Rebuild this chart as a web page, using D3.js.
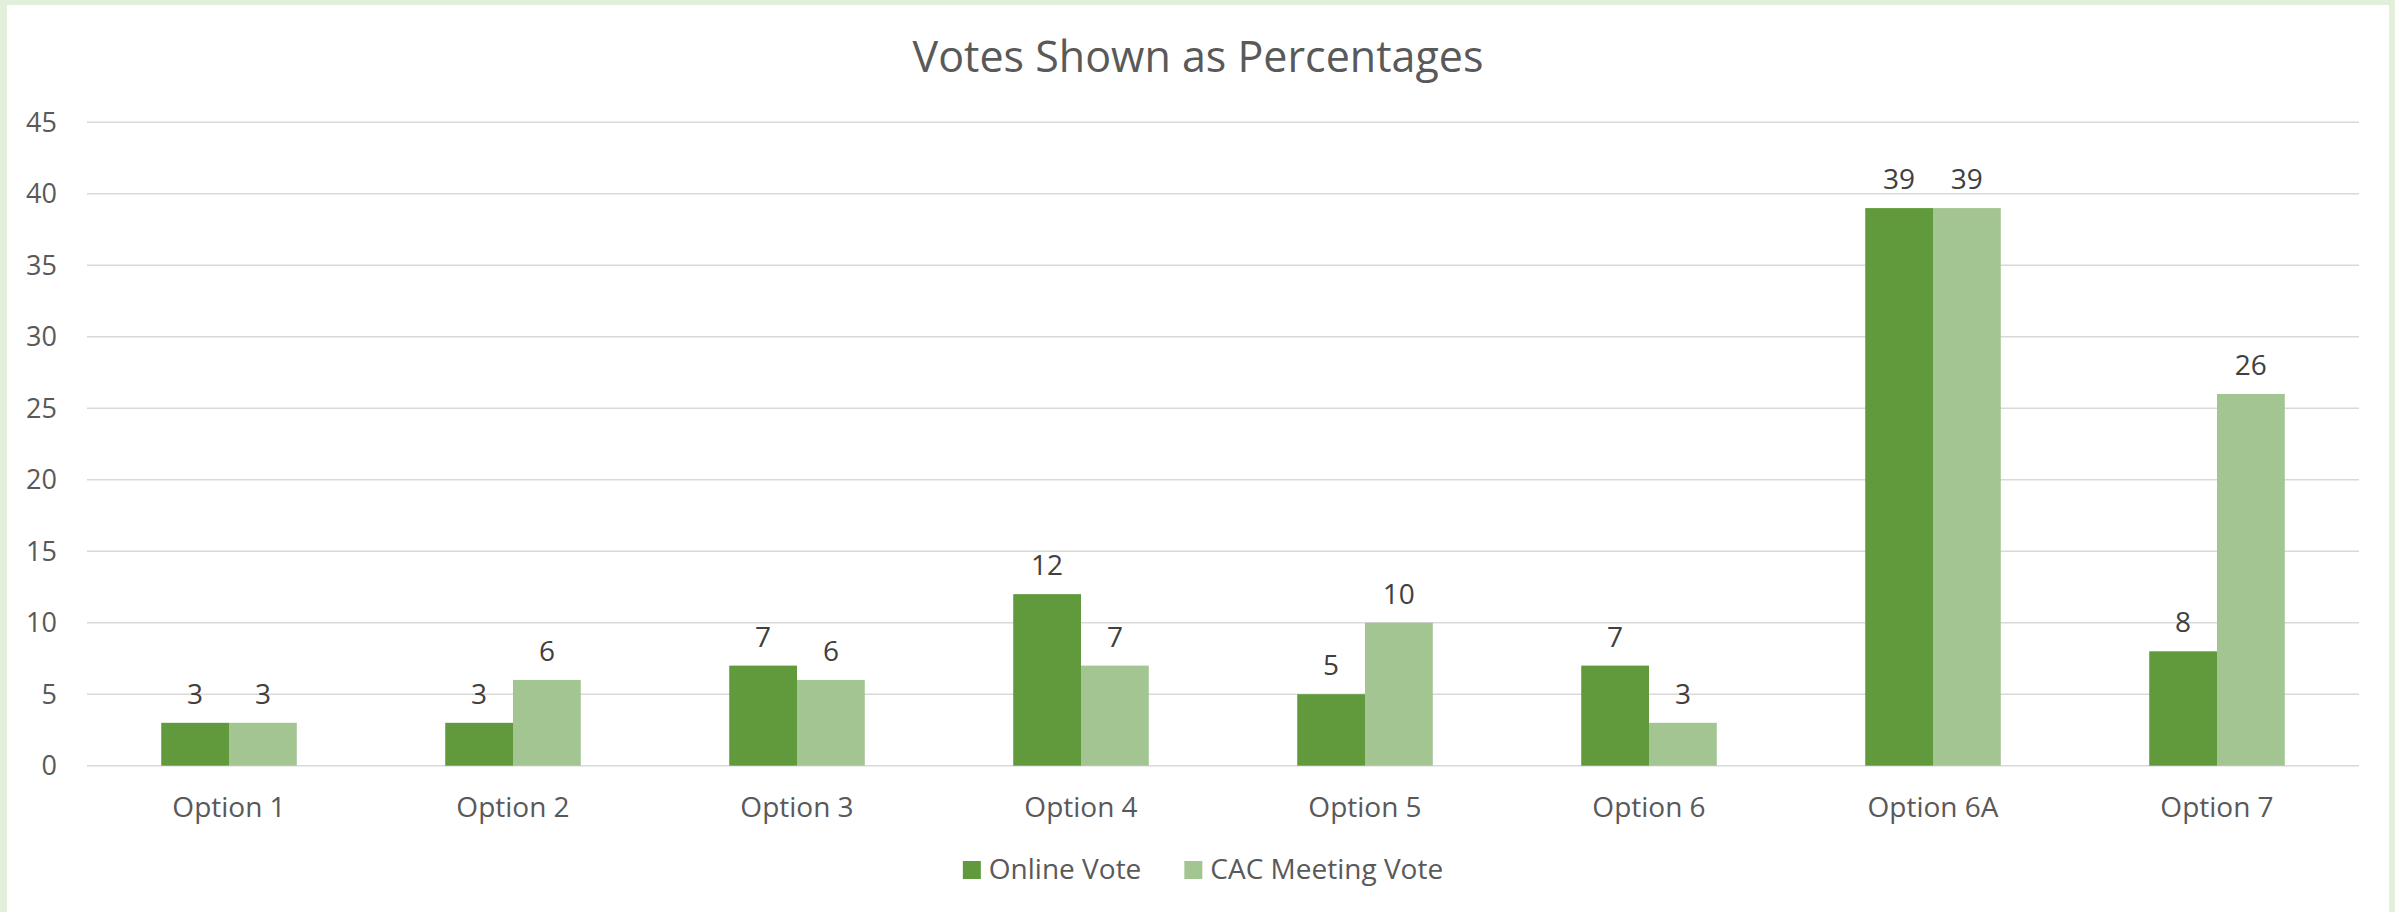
<!DOCTYPE html>
<meta charset='utf-8'>
<style>
  body { margin: 0; background: #fff; }
  text { font-family: 'Open Sans', 'Noto Sans', sans-serif; }
</style>
<div id='chart'></div>
<script src='https://d3js.org/d3.v7.min.js'></script>
<script>
  var categories = ['Option 1', 'Option 2', 'Option 3', 'Option 4', 'Option 5', 'Option 6', 'Option 6A', 'Option 7'];
  var seriesNames = ['Online Vote', 'CAC Meeting Vote'];
  var onlineVote = [3, 3, 7, 12, 5, 7, 39, 8];
  var cacVote = [3, 6, 6, 7, 10, 3, 39, 26];
  var yTicks = [0, 5, 10, 15, 20, 25, 30, 35, 40, 45];

  var W = 2395, H = 912;
  var plotLeft = 87, plotRight = 2359, plotTop = 122.3, plotBottom = 765.7;
  var colors = ['#619A3D', '#A3C592'];

  var svg = d3.select('#chart')
    .append('svg')
      .attr('width', W)
      .attr('height', H);

  // light green frame
  svg.append('rect').attr('width', W).attr('height', H).attr('fill', '#E2EFDA');
  svg.append('rect').attr('x', 7).attr('y', 5).attr('width', 2382).attr('height', H - 5).attr('fill', '#fff');

  var y = d3.scaleLinear().domain([0, 45]).range([plotBottom, plotTop]);

  // gap width 219% like excel
  var gap = 2.19 / 4.19;
  var x0 = d3.scaleBand().domain(categories).range([plotLeft, plotRight])
    .paddingInner(gap).paddingOuter(gap / 2);
  var x1 = d3.scaleBand().domain(seriesNames).range([0, x0.bandwidth()]);

  // gridlines
  svg.append('g')
    .selectAll('line')
    .data(yTicks)
    .enter()
    .append('line')
      .attr('x1', plotLeft).attr('x2', plotRight)
      .attr('y1', function(d) { return y(d); })
      .attr('y2', function(d) { return y(d); })
      .attr('stroke', '#D9D9D9')
      .attr('stroke-width', 1.5);

  // y tick labels
  svg.append('g')
    .selectAll('text')
    .data(yTicks)
    .enter()
    .append('text')
      .attr('x', 57)
      .attr('y', function(d) { return y(d); })
      .attr('dy', '0.35em')
      .attr('text-anchor', 'end')
      .attr('fill', '#595959')
      .style('font-size', '27px')
      .text(function(d) { return d; });

  var rows = categories.map(function(c, i) {
    return { cat: c, values: [
      { key: seriesNames[0], v: onlineVote[i] },
      { key: seriesNames[1], v: cacVote[i] }
    ] };
  });

  var groups = svg.append('g')
    .selectAll('g')
    .data(rows)
    .enter()
    .append('g')
      .attr('transform', function(d) { return 'translate(' + x0(d.cat) + ',0)'; });

  groups.selectAll('rect')
    .data(function(d) { return d.values; })
    .enter()
    .append('rect')
      .attr('x', function(d) { return x1(d.key); })
      .attr('width', x1.bandwidth())
      .attr('y', function(d) { return y(d.v); })
      .attr('height', function(d) { return y(0) - y(d.v); })
      .attr('fill', function(d, i) { return colors[i]; });

  groups.selectAll('text')
    .data(function(d) { return d.values; })
    .enter()
    .append('text')
      .attr('x', function(d) { return x1(d.key) + x1.bandwidth() / 2; })
      .attr('y', function(d) { return y(d.v) - 19; })
      .attr('text-anchor', 'middle')
      .attr('fill', '#404040')
      .style('font-size', '28px')
      .text(function(d) { return d.v; });

  // x labels
  svg.append('g')
    .selectAll('text')
    .data(categories)
    .enter()
    .append('text')
      .attr('x', function(d) { return x0(d) + x0.bandwidth() / 2; })
      .attr('y', 817)
      .attr('text-anchor', 'middle')
      .attr('fill', '#595959')
      .style('font-size', '28px')
      .text(function(d) { return d; });

  // title
  svg.append('text')
    .attr('x', 1198)
    .attr('y', 72)
    .attr('text-anchor', 'middle')
    .attr('fill', '#595959')
    .style('font-size', '43px')
    .text('Votes Shown as Percentages');

  // legend
  var legend = svg.append('g');
  var xpos = 0;
  seriesNames.forEach(function(name, i) {
    var g = legend.append('g').attr('transform', 'translate(' + xpos + ',0)');
    g.append('rect').attr('x', 0).attr('y', 861).attr('width', 18).attr('height', 18).attr('fill', colors[i]);
    var t = g.append('text').attr('x', 26).attr('y', 879)
      .attr('fill', '#595959').style('font-size', '28px').text(name);
    xpos += 26 + t.node().getComputedTextLength() + 43;
  });
  var lw = xpos - 43;
  legend.attr('transform', 'translate(' + (1203 - lw / 2) + ',0)');
</script>
